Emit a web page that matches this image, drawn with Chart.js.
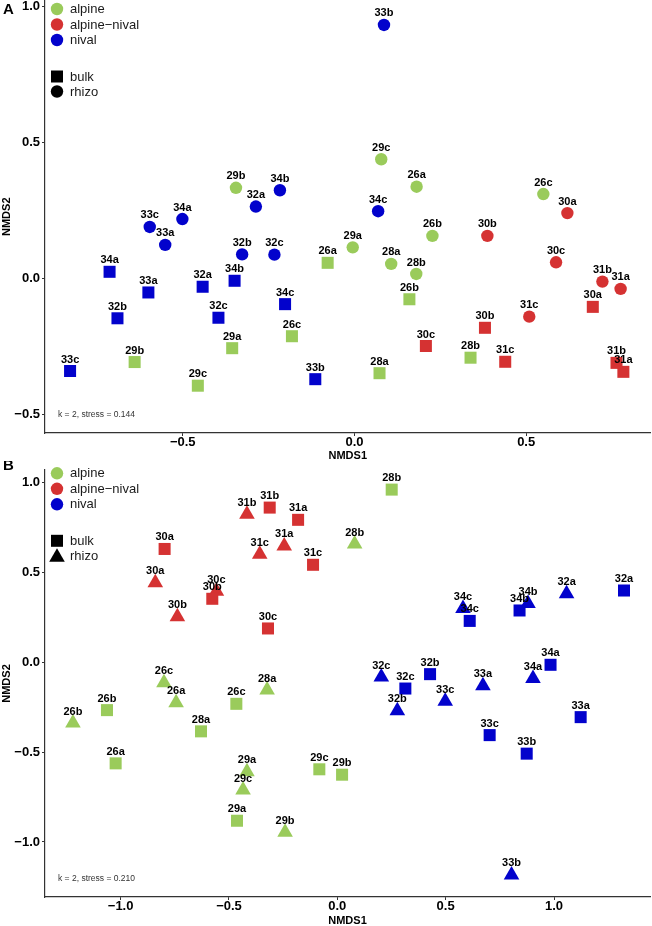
<!DOCTYPE html>
<html lang="en">
<head>
<meta charset="UTF-8">
<title>NMDS ordination</title>
<script src="https://cdn.jsdelivr.net/npm/chart.js"></script>
<style>
  html, body { margin: 0; background: #fff; overflow: hidden; width: 652px; height: 926px; }
  .panel { position: absolute; left: 0; top: 0; }
  canvas { display: block; }
</style>
</head>
<body>
<div class="panel" id="panelA"><canvas id="chartA"></canvas></div>
<div class="panel" id="panelB"><canvas id="chartB"></canvas></div>
<script>
// sample ids (site number + replicate), same order in every array below
const samples = ['26a','26b','26c','28a','28b','29a','29b','29c','30a','30b','30c',
                 '31a','31b','31c','32a','32b','32c','33a','33b','33c','34a','34b','34c'];

// site -> habitat
const siteGroup = {26: 'alpine', 28: 'alpine', 29: 'alpine', 30: 'alpine-nival', 31: 'alpine-nival',
                   32: 'nival', 33: 'nival', 34: 'nival'};
const groups = ['alpine', 'alpine-nival', 'nival'];
const groupLabels = ['alpine', 'alpine\u2212nival', 'nival'];
const groupColors = {'alpine': '#9acb5b', 'alpine-nival': '#d53232', 'nival': '#0202cc'};

// Panel A
const aBulkX  = [-0.078, 0.160, -0.182, 0.073, 0.338, -0.356, -0.640, -0.456, 0.694, 0.380, 0.208,
                 0.783, 0.763, 0.439, -0.442, -0.690, -0.396, -0.600, -0.114, -0.828, -0.713, -0.349, -0.202];
const aBulkY  = [0.057, -0.077, -0.213, -0.349, -0.292, -0.257, -0.308, -0.395, -0.105, -0.182, -0.249,
                 -0.344, -0.311, -0.307, -0.031, -0.147, -0.145, -0.052, -0.371, -0.341, 0.024, -0.009, -0.095];
const aRhizoX = [0.181, 0.227, 0.550, 0.107, 0.180, -0.005, -0.345, 0.078, 0.620, 0.387, 0.587,
                 0.775, 0.722, 0.509, -0.287, -0.327, -0.233, -0.551, 0.086, -0.596, -0.501, -0.217, 0.069];
const aRhizoY = [0.337, 0.156, 0.310, 0.053, 0.016, 0.114, 0.333, 0.438, 0.240, 0.156, 0.059,
                 -0.039, -0.012, -0.141, 0.264, 0.088, 0.087, 0.123, 0.932, 0.189, 0.218, 0.324, 0.247];
const aTicksX = [-0.5, 0, 0.5];
const aTicksY = [-0.5, 0, 0.5, 1.0];
const aStress = 'k = 2, stress = 0.144';

// Panel B
const bBulkX  = [-1.023, -1.063, -0.466, -0.629, 0.251, -0.463, 0.022, -0.083, -0.797, -0.577, -0.320,
                 -0.181, -0.312, -0.112, 1.323, 0.428, 0.314, 1.123, 0.874, 0.703, 0.984, 0.841, 0.611];
const bBulkY  = [-0.563, -0.267, -0.232, -0.385, 0.959, -0.882, -0.626, -0.596, 0.629, 0.352, 0.187,
                 0.791, 0.859, 0.541, 0.398, -0.067, -0.147, -0.306, -0.509, -0.406, -0.015, 0.287, 0.229];
const bRhizoX = [-0.744, -1.220, -0.800, -0.324, 0.080, -0.417, -0.241, -0.435, -0.840, -0.738, -0.558,
                 -0.245, -0.417, -0.358, 1.058, 0.277, 0.203, 0.672, 0.804, 0.498, 0.903, 0.880, 0.580];
const bRhizoY = [-0.226, -0.339, -0.115, -0.155, 0.656, -0.609, -0.946, -0.711, 0.441, 0.252, 0.394,
                 0.646, 0.822, 0.600, 0.380, -0.270, -0.083, -0.132, -1.183, -0.217, -0.091, 0.326, 0.298];
const bTicksX = [-1.0, -0.5, 0, 0.5, 1.0];
const bTicksY = [-1.0, -0.5, 0, 0.5, 1.0];
const bStress = 'k = 2, stress = 0.210';

const FONT = 'Arial, "Liberation Sans", sans-serif';

function groupOf(id) { return siteGroup[parseInt(id, 10)]; }
function fmt(v) { return (v < 0 ? '\u2212' : '') + Math.abs(v).toFixed(1); }

function makeDataset(xs, ys, style, radius) {
    return {
        data: xs.map((x, i) => ({x: x, y: ys[i]})),
        ids: samples,
        pointStyle: style,
        pointRadius: radius,
        pointBorderWidth: 0,
        pointBackgroundColor: samples.map(id => groupColors[groupOf(id)]),
        showLine: false,
        clip: false
    };
}

function drawMarker(ctx, style, x, y, color) {
    ctx.fillStyle = color;
    ctx.beginPath();
    if (style === 'rect') {
        ctx.rect(x - 6, y - 6, 12, 12);
    } else if (style === 'triangle') {
        const r = 9;
        ctx.moveTo(x, y - r);
        ctx.lineTo(x + r * Math.sin(2 * Math.PI / 3), y + r / 2);
        ctx.lineTo(x - r * Math.sin(2 * Math.PI / 3), y + r / 2);
        ctx.closePath();
    } else {
        ctx.arc(x, y, 6.2, 0, 2 * Math.PI);
    }
    ctx.fill();
}

// point labels, legend, panel letter and stress note
const extras = {
    id: 'nmdsExtras',
    afterDatasetsDraw(chart, args, opts) {
        const ctx = chart.ctx;
        const area = chart.chartArea;
        ctx.save();

        // labels above the points
        ctx.font = 'bold 11px ' + FONT;
        ctx.fillStyle = '#000';
        ctx.textAlign = 'center';
        ctx.textBaseline = 'middle';
        chart.data.datasets.forEach((ds, di) => {
            const meta = chart.getDatasetMeta(di);
            meta.data.forEach((pt, i) => {
                ctx.fillText(ds.ids[i], pt.x, pt.y - 11.5);
            });
        });

        // legend
        const rows = [0, 15.5, 31];
        const lx = area.left + 12;
        ctx.font = '13px ' + FONT;
        ctx.textAlign = 'left';
        groups.forEach((g, i) => {
            const y = area.top + opts.legendTop + rows[i];
            drawMarker(ctx, 'circle', lx, y, groupColors[g]);
            ctx.fillStyle = '#1a1a1a';
            ctx.fillText(groupLabels[i], area.left + 25, y + 0.5);
        });
        const shapeRows = [67.5, 82.5];
        ['bulk', 'rhizo'].forEach((name, i) => {
            const y = area.top + opts.legendTop + shapeRows[i];
            const style = name === 'bulk' ? 'rect' : opts.rhizoStyle;
            drawMarker(ctx, style, lx, y + (style === 'triangle' ? 1.5 : 0), '#000');
            ctx.fillStyle = '#1a1a1a';
            ctx.fillText(name, area.left + 25, y + 0.5);
        });

        // stress note
        ctx.font = '8.5px ' + FONT;
        ctx.fillStyle = '#333';
        ctx.fillText(opts.stress, area.left + 13, area.bottom - 18.5);

        // panel letter
        ctx.font = 'bold 15px ' + FONT;
        ctx.fillStyle = '#000';
        ctx.fillText(opts.letter, area.left - 42, area.top + opts.letterY);
        ctx.restore();
    }
};

function axis(min, max, ticks, title, size, horizontal) {
    return {
        type: 'linear',
        min: min,
        max: max,
        afterBuildTicks: scale => { scale.ticks = ticks.map(v => ({value: v})); },
        afterFit: scale => {
            if (horizontal) scale.height = size; else scale.width = size;
        },
        grid: {display: true, drawOnChartArea: false, drawTicks: true, tickLength: 3, color: '#333', lineWidth: 1},
        border: {display: true, color: '#333', width: 1.2},
        ticks: {
            callback: v => fmt(v),
            color: '#000',
            font: {family: FONT, size: 13, weight: 'bold', lineHeight: 1},
            padding: horizontal ? 0 : 2,
            maxRotation: 0,
            autoSkip: false
        },
        title: {
            display: true,
            text: title,
            color: '#000',
            font: {family: FONT, size: 11, weight: 'bold', lineHeight: 1},
            padding: {top: horizontal ? 0 : 1, bottom: 0}
        }
    };
}

function makeChart(canvas, cfg) {
    return new Chart(canvas, {
        type: 'scatter',
        data: {datasets: cfg.datasets},
        options: {
            responsive: false,
            maintainAspectRatio: false,
            animation: false,
            events: [],
            layout: {padding: 0},
            plugins: {
                legend: {display: false},
                tooltip: {enabled: false},
                nmdsExtras: cfg.extras
            },
            scales: {
                x: axis(cfg.xMin, cfg.xMax, cfg.ticksX, 'NMDS1', cfg.xAxisH, true),
                y: axis(cfg.yMin, cfg.yMax, cfg.ticksY, 'NMDS2', 45, false)
            }
        },
        plugins: [extras]
    });
}

// build once, measure the plot area, then size and place the canvas so the
// plot area lands where it sits in the figure
function placeChart(id, cfg, box) {
    const canvas = document.getElementById(id);
    canvas.width = 652;
    canvas.height = box.bottom - box.top + 60;
    let chart = makeChart(canvas, cfg);
    let a = chart.chartArea;
    const w = Math.round(canvas.width + (box.right - box.left) - (a.right - a.left));
    const h = Math.round(canvas.height + (box.bottom - box.top) - (a.bottom - a.top));
    chart.destroy();
    canvas.width = w;
    canvas.height = h;
    canvas.style.width = w + 'px';
    canvas.style.height = h + 'px';
    chart = makeChart(canvas, cfg);
    a = chart.chartArea;
    canvas.parentNode.style.left = (box.left - a.left) + 'px';
    canvas.parentNode.style.top = (box.top - a.top) + 'px';
    return chart;
}

placeChart('chartA', {
    datasets: [makeDataset(aBulkX, aBulkY, 'rect', 8.5), makeDataset(aRhizoX, aRhizoY, 'circle', 6.2)],
    xMin: -0.901, xMax: 0.862, yMin: -0.569, yMax: 1.022,
    ticksX: aTicksX, ticksY: aTicksY, xAxisH: 28,
    extras: {legendTop: 8.5, rhizoStyle: 'circle', stress: aStress, letter: 'A', letterY: 9}
}, {left: 45, top: 0, right: 650, bottom: 432});

placeChart('chartB', {
    datasets: [makeDataset(bBulkX, bBulkY, 'rect', 8.5), makeDataset(bRhizoX, bRhizoY, 'triangle', 9)],
    xMin: -1.349, xMax: 1.443, yMin: -1.306, yMax: 1.068,
    ticksX: bTicksX, ticksY: bTicksY, xAxisH: 29,
    extras: {legendTop: 3.3, rhizoStyle: 'triangle', stress: bStress, letter: 'B', letterY: -4}
}, {left: 45, top: 470, right: 650, bottom: 897});
</script>
</body>
</html>
